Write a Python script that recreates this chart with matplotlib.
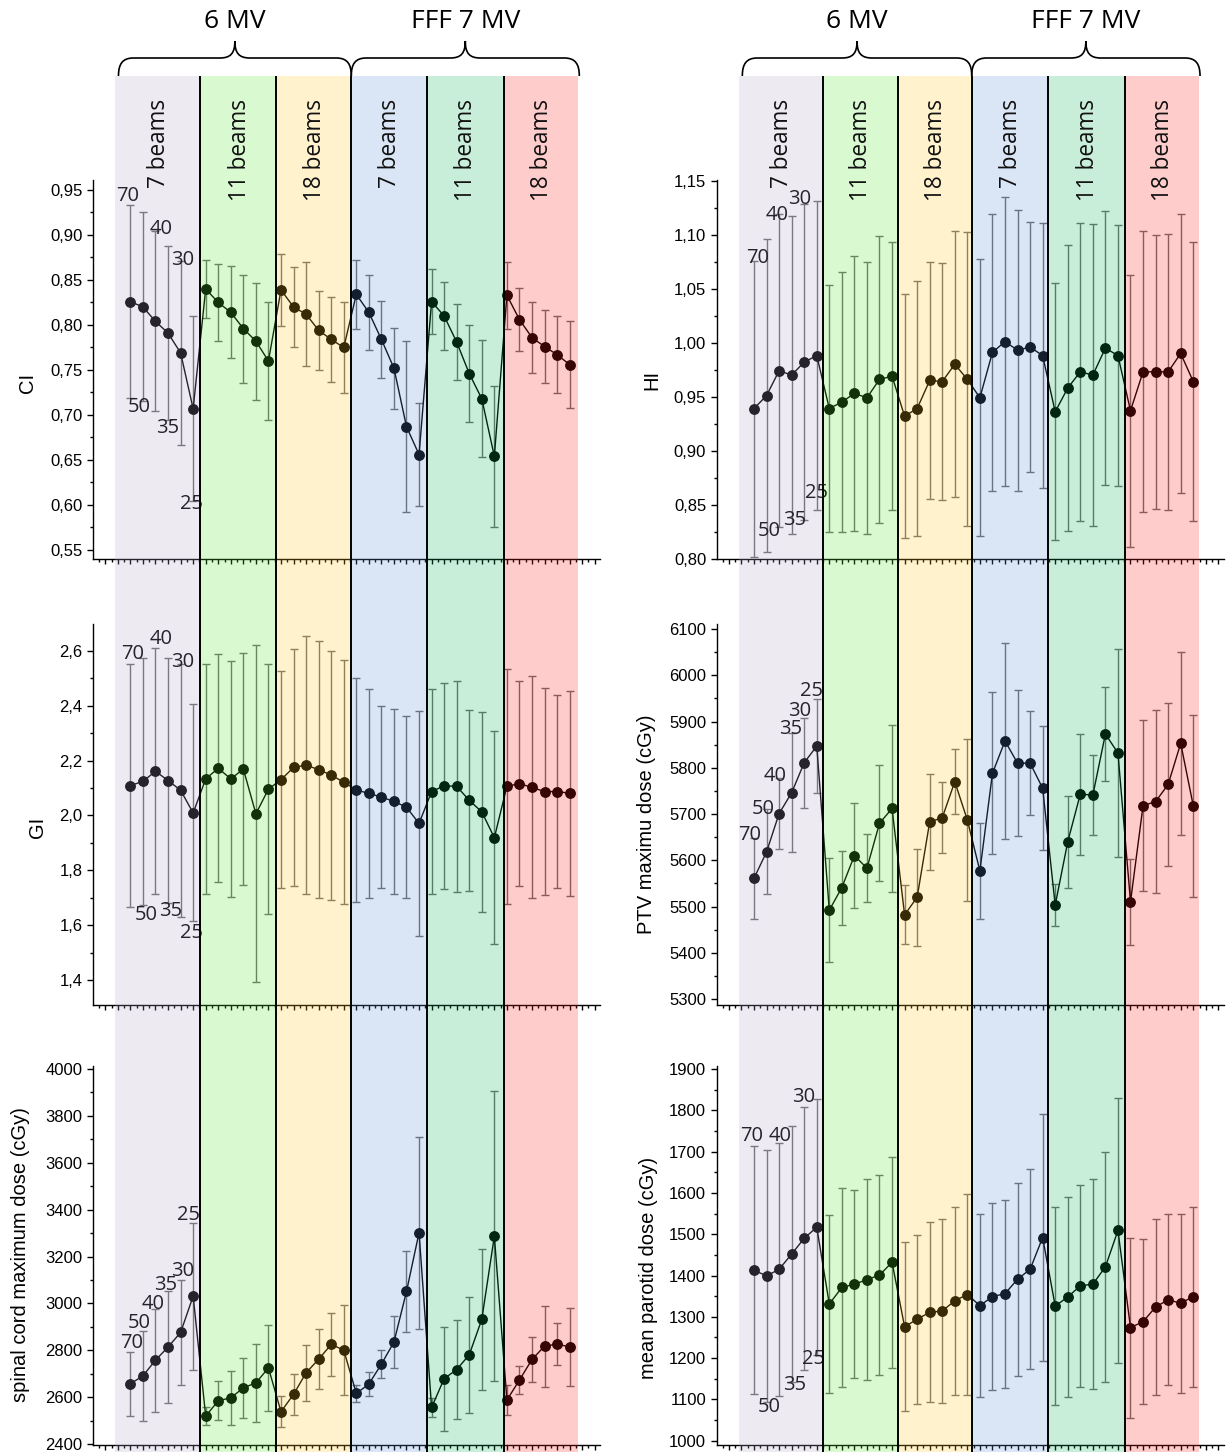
import numpy as np
import matplotlib
matplotlib.use("Agg")
import matplotlib.pyplot as plt
import matplotlib.transforms as mtransforms
from matplotlib.path import Path
from matplotlib.patches import PathPatch
from matplotlib.ticker import MultipleLocator, FuncFormatter

plt.rcParams['font.family'] = ['Liberation Sans', 'DejaVu Sans']

# ---- data ----
groups = ['6 MV', 'FFF 7 MV']
beams = ['7 beams', '11 beams', '18 beams', '7 beams', '11 beams', '18 beams']
params = ['70', '50', '40', '35', '30', '25']

ci_mean = [0.826, 0.820, 0.804, 0.791, 0.769, 0.707,
           0.840, 0.825, 0.814, 0.796, 0.782, 0.760,
           0.839, 0.820, 0.812, 0.794, 0.784, 0.775,
           0.834, 0.814, 0.784, 0.752, 0.687, 0.656,
           0.826, 0.810, 0.781, 0.746, 0.718, 0.654,
           0.833, 0.806, 0.786, 0.776, 0.767, 0.756]
ci_sd = [0.107, 0.105, 0.100, 0.097, 0.102, 0.103,
         0.032, 0.043, 0.051, 0.060, 0.065, 0.066,
         0.040, 0.044, 0.058, 0.044, 0.047, 0.051,
         0.038, 0.042, 0.043, 0.045, 0.095, 0.057,
         0.036, 0.038, 0.042, 0.054, 0.065, 0.078,
         0.037, 0.035, 0.039, 0.041, 0.043, 0.048]

hi_mean = [0.939, 0.951, 0.974, 0.970, 0.982, 0.988,
           0.939, 0.945, 0.953, 0.949, 0.966, 0.969,
           0.932, 0.939, 0.965, 0.964, 0.980, 0.966,
           0.949, 0.991, 1.001, 0.993, 0.996, 0.988,
           0.936, 0.958, 0.973, 0.970, 0.995, 0.988,
           0.937, 0.973, 0.973, 0.973, 0.990, 0.964]
hi_sd = [0.137, 0.145, 0.145, 0.147, 0.146, 0.143,
         0.114, 0.120, 0.127, 0.126, 0.133, 0.124,
         0.113, 0.118, 0.110, 0.110, 0.123, 0.136,
         0.128, 0.128, 0.134, 0.130, 0.116, 0.123,
         0.119, 0.132, 0.138, 0.140, 0.127, 0.121,
         0.126, 0.130, 0.127, 0.128, 0.129, 0.129]

gi_mean = [2.109, 2.124, 2.161, 2.127, 2.092, 2.009,
           2.133, 2.172, 2.133, 2.169, 2.006, 2.096,
           2.130, 2.175, 2.183, 2.167, 2.147, 2.121,
           2.093, 2.080, 2.067, 2.051, 2.030, 1.971,
           2.087, 2.108, 2.106, 2.055, 2.013, 1.919,
           2.106, 2.116, 2.102, 2.087, 2.087, 2.081]
gi_sd = [0.444, 0.451, 0.447, 0.447, 0.460, 0.395,
         0.420, 0.414, 0.430, 0.422, 0.613, 0.455,
         0.395, 0.432, 0.470, 0.467, 0.453, 0.445,
         0.409, 0.382, 0.330, 0.336, 0.331, 0.410,
         0.374, 0.376, 0.385, 0.330, 0.364, 0.388,
         0.429, 0.372, 0.404, 0.377, 0.350, 0.373]

ptv_mean = [5561, 5618, 5701, 5746, 5811, 5847,
            5492, 5541, 5610, 5583, 5680, 5712,
            5482, 5520, 5683, 5692, 5770, 5687,
            5577, 5788, 5858, 5810, 5810, 5756,
            5503, 5640, 5743, 5741, 5873, 5832,
            5510, 5718, 5727, 5764, 5853, 5718]
ptv_sd = [88, 92, 76, 129, 97, 101,
          112, 80, 113, 74, 125, 180,
          64, 105, 103, 77, 70, 176,
          104, 175, 212, 158, 112, 134,
          45, 100, 131, 86, 102, 224,
          93, 185, 198, 177, 198, 197]

cord_mean = [2657, 2691, 2758, 2814, 2876, 3031,
             2519, 2585, 2597, 2640, 2661, 2725,
             2538, 2612, 2704, 2762, 2825, 2801,
             2616, 2656, 2741, 2835, 3051, 3302,
             2556, 2679, 2718, 2781, 2932, 3287,
             2588, 2673, 2761, 2818, 2826, 2815]
cord_sd = [137, 192, 220, 238, 224, 314,
           39, 82, 116, 129, 168, 185,
           65, 87, 119, 127, 133, 192,
           38, 52, 59, 112, 173, 410,
           40, 222, 213, 247, 302, 619,
           65, 58, 95, 173, 90, 167]

parotid_mean = [1413, 1399, 1415, 1452, 1490, 1517,
                1331, 1371, 1379, 1390, 1401, 1432,
                1276, 1294, 1311, 1314, 1339, 1354,
                1327, 1349, 1356, 1391, 1415, 1492,
                1326, 1348, 1375, 1379, 1421, 1509,
                1274, 1288, 1324, 1341, 1333, 1349]
parotid_sd = [300, 305, 307, 310, 319, 310,
              215, 241, 227, 243, 242, 256,
              204, 204, 218, 223, 228, 243,
              222, 226, 228, 234, 242, 298,
              239, 243, 245, 255, 279, 321,
              218, 200, 214, 207, 217, 218]

# where the 70/50/40/35/30/25 labels sit (data coords)
ci_lab = [(-0.24, 0.943), (0.68, 0.709), (2.41, 0.907), (3.0, 0.686), (4.19, 0.872), (4.86, 0.601)]
hi_lab = [(0.26, 1.078), (1.18, 0.826), (1.87, 1.118), (3.25, 0.836), (3.67, 1.133), (4.98, 0.861)]
gi_lab = [(0.21, 2.589), (1.27, 1.639), (2.41, 2.642), (3.18, 1.652), (4.19, 2.557), (4.86, 1.572)]
ptv_lab = [(-0.35, 5655), (0.77, 5711), (1.65, 5782), (2.92, 5883), (3.67, 5922), (4.59, 5966)]
cord_lab = [(0.1, 2831), (0.71, 2917), (1.84, 2999), (2.8, 3080), (4.15, 3137), (4.6, 3376)]
parotid_lab = [(-0.16, 1737), (1.21, 1081), (2.07, 1737), (3.21, 1135), (3.94, 1832), (4.76, 1197)]

# ---- layout ----
W, H = 1226, 1452
fig = plt.figure(figsize=(W / 100, H / 100), dpi=100)

XLIM = (-2.98, 37.42)
STEP = 12.55
col_x = [93, 716.6]
ax_w = (XLIM[1] - XLIM[0]) * STEP
rows = [(180, 559), (624, 1005), (1066, 1445)]
band_edges = [[-1.25, 5.58, 11.63, 17.6, 23.6, 29.75, 35.67],
              [-1.23, 5.48, 11.44, 17.35, 23.43, 29.54, 35.44]]
band_rgb = [(173, 160, 200), (82, 232, 46), (255, 196, 23),
            (87, 141, 210), (5, 173, 82), (255, 23, 23)]
BAND_ALPHA = 0.22


def rect(x0, y0, x1, y1):
    return [x0 / W, 1 - y1 / H, (x1 - x0) / W, (y1 - y0) / H]


def comma_fmt(nd):
    return FuncFormatter(lambda v, p: ('%.*f' % (nd, v)).replace('.', ','))


x = np.arange(36)

panels = [
    (0, 0, ci_mean, ci_sd, (0.540, 0.9611), 0.05, 0.025, 2, 'CI', ci_lab, (28, 383)),
    (1, 0, hi_mean, hi_sd, (0.7997, 1.1506), 0.05, 0.025, 2, 'HI', hi_lab, (652, 380)),
    (0, 1, gi_mean, gi_sd, (1.31, 2.697), 0.2, 0.1, 1, 'GI', gi_lab, (38, 827)),
    (1, 1, ptv_mean, ptv_sd, (5287, 6111), 100, 50, 0, 'PTV maximu dose (cGy)', ptv_lab, (646, 824)),
    (0, 2, cord_mean, cord_sd, (2396, 4013), 200, 100, 0, 'spinal cord maximum dose (cGy)', cord_lab, (21, 1255)),
    (1, 2, parotid_mean, parotid_sd, (989.6, 1907.3), 100, 50, 0, 'mean parotid dose (cGy)', parotid_lab, (648, 1268)),
]

for col, row, mean, sd, ylim, maj, mnr, nd, ylab, labs, lpos in panels:
    y0, y1 = rows[row]
    ax = fig.add_axes(rect(col_x[col], y0, col_x[col] + ax_w, y1))
    ax.set_facecolor('none')
    ax.errorbar(x, mean, yerr=sd, fmt='none', ecolor='#6e6e6e', elinewidth=1.0,
                capsize=3.2, capthick=1.0, zorder=2)
    ax.plot(x, mean, '-o', color='black', lw=1.0, ms=6.8, zorder=3)
    for (tx, ty), s in zip(labs, params):
        ax.text(tx, ty, s, ha='center', va='center', fontsize=14.5,
                family=['Open Sans', 'DejaVu Sans'], zorder=4)
    ax.set_xlim(XLIM)
    ax.set_ylim(ylim)
    ax.yaxis.set_major_locator(MultipleLocator(maj))
    ax.yaxis.set_minor_locator(MultipleLocator(mnr))
    ax.yaxis.set_major_formatter(comma_fmt(nd))
    ax.xaxis.set_major_locator(MultipleLocator(1))
    ax.xaxis.set_minor_locator(MultipleLocator(0.5))
    for sp in ('top', 'right'):
        ax.spines[sp].set_visible(False)
    for sp in ('left', 'bottom'):
        ax.spines[sp].set_linewidth(1.0)
    ax.tick_params(axis='y', which='major', direction='out', length=4.5, width=1,
                   labelsize=12, pad=3)
    ax.tick_params(axis='y', which='minor', direction='out', length=2.5, width=1)
    ax.tick_params(axis='x', which='major', direction='out', length=3.8, width=1,
                   labelbottom=False)
    ax.tick_params(axis='x', which='minor', direction='out', length=2.5, width=1)
    fig.text(lpos[0] / W, 1 - lpos[1] / H, ylab, rotation=90, ha='center',
             va='center', fontsize=14.5)

# ---- coloured band overlay, headers and braces ----
for col in range(2):
    ov = fig.add_axes(rect(col_x[col], 76, col_x[col] + ax_w, H))
    ov.set_xlim(XLIM)
    ov.set_ylim(0, 1)
    ov.axis('off')
    ov.set_zorder(10)
    edges = band_edges[col]
    for i in range(6):
        c = tuple(v / 255 for v in band_rgb[i])
        ov.axvspan(edges[i], edges[i + 1], color=c, alpha=BAND_ALPHA, lw=0, zorder=1)
    for e in edges[1:-1]:
        ov.axvline(e, color='black', lw=1.4, zorder=3)

    tr = mtransforms.blended_transform_factory(ov.transData, fig.transFigure)
    for i, b in enumerate(beams):
        xc = 0.5 * (edges[i] + edges[i + 1]) + 0.1
        t = fig.text(xc, 1 - 99 / H, b, transform=tr, rotation=90, ha='center',
                     va='top', fontsize=16.3, color='#111111',
                     family=['Open Sans', 'DejaVu Sans'])
        t.set_zorder(20)

    r = 15 / STEP
    k = 4 / STEP
    yb, ym, ya = 1 - 76 / H, 1 - 58 / H, 1 - 41 / H
    spans = [(edges[0] + 0.3, edges[3]), (edges[3], edges[6] + 0.1)]
    for g, (a, b) in zip(groups, spans):
        m = 0.5 * (a + b)
        verts = [(a, yb), (a, 1 - 64 / H), (a + k, ym), (a + r, ym),
                 (m - r, ym),
                 (m - k, ym), (m, 1 - 53 / H), (m, ya),
                 (m, 1 - 53 / H), (m + k, ym), (m + r, ym),
                 (b - r, ym),
                 (b - k, ym), (b, 1 - 64 / H), (b, yb)]
        codes = [Path.MOVETO, Path.CURVE4, Path.CURVE4, Path.CURVE4,
                 Path.LINETO,
                 Path.CURVE4, Path.CURVE4, Path.CURVE4,
                 Path.CURVE4, Path.CURVE4, Path.CURVE4,
                 Path.LINETO,
                 Path.CURVE4, Path.CURVE4, Path.CURVE4]
        patch = PathPatch(Path(verts, codes), transform=tr, fill=False,
                          lw=1.2, edgecolor='black', clip_on=False)
        fig.add_artist(patch)
        fig.text(m, 1 - 22 / H, g, transform=tr, ha='center', va='center',
                 fontsize=19, family=['Open Sans', 'DejaVu Sans'])

fig.savefig('out.png', dpi=100)
